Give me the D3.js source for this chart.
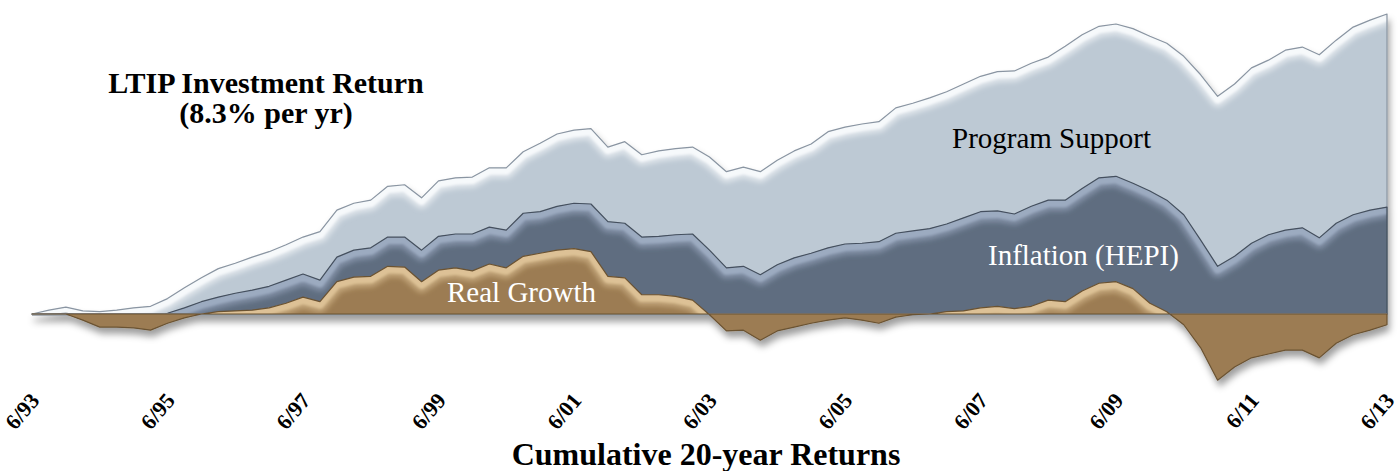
<!DOCTYPE html>
<html>
<head>
<meta charset="utf-8">
<script src="https://cdn.jsdelivr.net/npm/d3@7"></script>
<style>
  html, body { margin: 0; padding: 0; background: #fff; }
  svg { display: block; }
</style>
</head>
<body>
<svg id="chart" width="1400" height="471"></svg>
<script>
// ---------------- data ----------------
const quarters = [
  "6/93","9/93","12/93",
  "3/94","6/94","9/94","12/94",
  "3/95","6/95","9/95","12/95",
  "3/96","6/96","9/96","12/96",
  "3/97","6/97","9/97","12/97",
  "3/98","6/98","9/98","12/98",
  "3/99","6/99","9/99","12/99",
  "3/00","6/00","9/00","12/00",
  "3/01","6/01","9/01","12/01",
  "3/02","6/02","9/02","12/02",
  "3/03","6/03","9/03","12/03",
  "3/04","6/04","9/04","12/04",
  "3/05","6/05","9/05","12/05",
  "3/06","6/06","9/06","12/06",
  "3/07","6/07","9/07","12/07",
  "3/08","6/08","9/08","12/08",
  "3/09","6/09","9/09","12/09",
  "3/10","6/10","9/10","12/10",
  "3/11","6/11","9/11","12/11",
  "3/12","6/12","9/12","12/12",
  "3/13","6/13"
];

const tickLabels = ["6/93","6/95","6/97","6/99","6/01","6/03","6/05","6/07","6/09","6/11","6/13"];

// cumulative total investment return (%), top of "Program Support"
const totalReturn = [
  0, 5, 9, 4, 3, 5, 8, 10, 20, 34, 47, 59, 66, 74, 81, 90,
  100, 107, 135, 144, 148, 166, 168, 151, 173, 177, 178, 190, 190, 211, 222, 234,
  239, 241, 217, 224, 207, 212, 215, 217, 204, 185, 191, 185, 200, 212, 221, 237,
  243, 247, 250, 268, 274, 281, 289, 299, 309, 315, 316, 326, 334, 348, 363, 374,
  377, 371, 361, 352, 335, 311, 283, 299, 320, 330, 343, 347, 337, 356, 373, 382, 390
];

// cumulative inflation (HEPI) + real growth (%), top of "Inflation (HEPI)"
const inflationPlusReal = [
  0, 0, 1, -1, -4, -4, -4, -5, 1, 8, 16, 22, 27, 31, 36, 44,
  52, 44, 74, 83, 86, 100, 100, 83, 101, 104, 104, 113, 109, 131, 133, 140,
  144, 143, 120, 118, 100, 101, 103, 104, 83, 60, 62, 51, 64, 73, 79, 86,
  91, 92, 94, 105, 108, 111, 117, 125, 133, 134, 130, 140, 148, 148, 163, 177,
  179, 170, 160, 148, 129, 96, 62, 75, 92, 103, 109, 112, 99, 118, 129, 135, 139
];

// cumulative real growth (%)
const realGrowth = [
  0, 0, 0, -8, -17, -17, -18, -21, -12, -5, 0, 3, 4, 5, 8, 14,
  22, 16, 42, 48, 49, 62, 61, 42, 57, 60, 56, 65, 60, 75, 79, 83,
  85, 81, 49, 47, 25, 25, 23, 18, -1, -22, -21, -34, -22, -17, -12, -8,
  -5, -8, -12, -4, -1, 0, 3, 4, 8, 10, 7, 10, 18, 16, 30, 40,
  42, 33, 14, 3, -14, -44, -86, -69, -57, -52, -47, -47, -57, -38, -27, -21, -14
];

// ---------------- drawing ----------------
const svg = d3.select("#chart");
const W = 1400, H = 471;

const x = d3.scalePoint().domain(quarters).range([32, 1387]);
const y = d3.scaleLinear().domain([0, 390]).range([314, 14]);
const y0 = y(0);

const defs = svg.append("defs");

function blurFilter(id, sd) {
  defs.append("filter").attr("id", id)
    .attr("x", "-5%").attr("y", "-50%").attr("width", "110%").attr("height", "200%")
    .append("feGaussianBlur").attr("stdDeviation", sd);
}
blurFilter("soft", 1.0);
blurFilter("softer", 2.6);

const shadow = defs.append("filter").attr("id", "shadow")
  .attr("x", "-3%").attr("y", "-10%").attr("width", "106%").attr("height", "135%");
shadow.append("feDropShadow").attr("dx", 2).attr("dy", 6).attr("stdDeviation", 3.5)
  .attr("flood-color", "#000").attr("flood-opacity", 0.38);

defs.append("clipPath").attr("id", "above")
  .append("rect").attr("x", 0).attr("y", 0).attr("width", W).attr("height", y0);
defs.append("clipPath").attr("id", "below")
  .append("rect").attr("x", 0).attr("y", y0).attr("width", W).attr("height", H - y0);

const layers = [
  { key: "light", values: totalReturn,       fill: "#bdc9d4", band: "#f8fafc", edge: "#8a95a2" },
  { key: "dark",  values: inflationPlusReal, fill: "#5f6d80", band: "#9dacc2", edge: "#45505e" },
  { key: "tan",   values: realGrowth,        fill: "#9c7c52", band: "#dec397", edge: "#6a5232" }
];

const area = d3.area()
  .x((d, i) => x(quarters[i]))
  .y0(y0)
  .y1(d => y(d));
const line = d3.line()
  .x((d, i) => x(quarters[i]))
  .y(d => y(d));
const zeroLine = d3.line()
  .x((d, i) => x(quarters[i]))
  .y(() => y0);

const chart = svg.append("g").attr("filter", "url(#shadow)");

function bevel(parent, clipA, clipB, pathD, color) {
  const g = parent.append("g").attr("clip-path", "url(#" + clipA + ")")
    .append("g").attr("clip-path", "url(#" + clipB + ")");
  g.append("path")
    .attr("d", pathD).attr("fill", "none")
    .attr("stroke", color).attr("stroke-width", 16).attr("stroke-opacity", 0.55)
    .attr("stroke-linejoin", "round")
    .attr("transform", "translate(0,3)")
    .attr("filter", "url(#softer)");
  g.append("path")
    .attr("d", pathD).attr("fill", "none")
    .attr("stroke", color).attr("stroke-width", 9).attr("stroke-opacity", 0.95)
    .attr("stroke-linejoin", "round")
    .attr("transform", "translate(0,2.5)")
    .attr("filter", "url(#soft)");
}

layers.forEach((L) => {
  const g = chart.append("g").attr("class", "layer-" + L.key);
  g.append("path").attr("d", area(L.values)).attr("fill", L.fill);

  defs.append("clipPath").attr("id", "clip-" + L.key)
    .append("path").attr("d", area(L.values));

  // bevel highlight along the top edge (positive part)
  bevel(g, "above", "clip-" + L.key, line(L.values), L.band);
  // bevel highlight along the baseline (negative part)
  bevel(g, "below", "clip-" + L.key, zeroLine(L.values), L.band);

  g.append("path")
    .attr("d", area(L.values))
    .attr("fill", "none")
    .attr("stroke", L.edge)
    .attr("stroke-width", 1.2)
    .attr("stroke-linejoin", "round");

  if (L.key === "dark") {
    chart.append("line")
      .attr("x1", x(quarters[0])).attr("x2", x(quarters[quarters.length - 1]))
      .attr("y1", y0 + 0.5).attr("y2", y0 + 0.5)
      .attr("stroke", "#8f969f").attr("stroke-width", 2.5);
  }
});

// ---------------- axis ----------------
const serif = "'Liberation Serif', 'Times New Roman', Times, serif";

const axis = d3.axisBottom(x).tickValues(tickLabels).tickSize(0).tickPadding(0);
const axG = svg.append("g").attr("transform", "translate(0,385)").call(axis);
axG.select(".domain").remove();
axG.selectAll("text")
  .attr("x", 0).attr("y", 0).attr("dy", 0)
  .attr("transform", "translate(8,16) rotate(-50)")
  .style("text-anchor", "end")
  .style("font-family", serif)
  .style("font-weight", "bold")
  .style("font-size", "22px")
  .attr("fill", "#000");

// ---------------- texts ----------------
svg.append("text").attr("x", 266).attr("y", 93)
  .attr("text-anchor", "middle").attr("font-family", serif)
  .attr("font-weight", "bold").attr("font-size", 30).attr("fill", "#000")
  .text("LTIP Investment Return");
svg.append("text").attr("x", 266).attr("y", 123)
  .attr("text-anchor", "middle").attr("font-family", serif)
  .attr("font-weight", "bold").attr("font-size", 30).attr("fill", "#000")
  .text("(8.3% per yr)");

svg.append("text").attr("x", 952).attr("y", 148)
  .attr("font-family", serif).attr("font-size", 29).attr("fill", "#000")
  .text("Program Support");
svg.append("text").attr("x", 988).attr("y", 265)
  .attr("font-family", serif).attr("font-size", 29).attr("fill", "#fff")
  .text("Inflation (HEPI)");
svg.append("text").attr("x", 447).attr("y", 302)
  .attr("font-family", serif).attr("font-size", 29).attr("fill", "#fff")
  .text("Real Growth");

svg.append("text").attr("x", 706).attr("y", 465)
  .attr("text-anchor", "middle").attr("font-family", serif)
  .attr("font-weight", "bold").attr("font-size", 32).attr("fill", "#000")
  .text("Cumulative 20-year Returns");
</script>
</body>
</html>
